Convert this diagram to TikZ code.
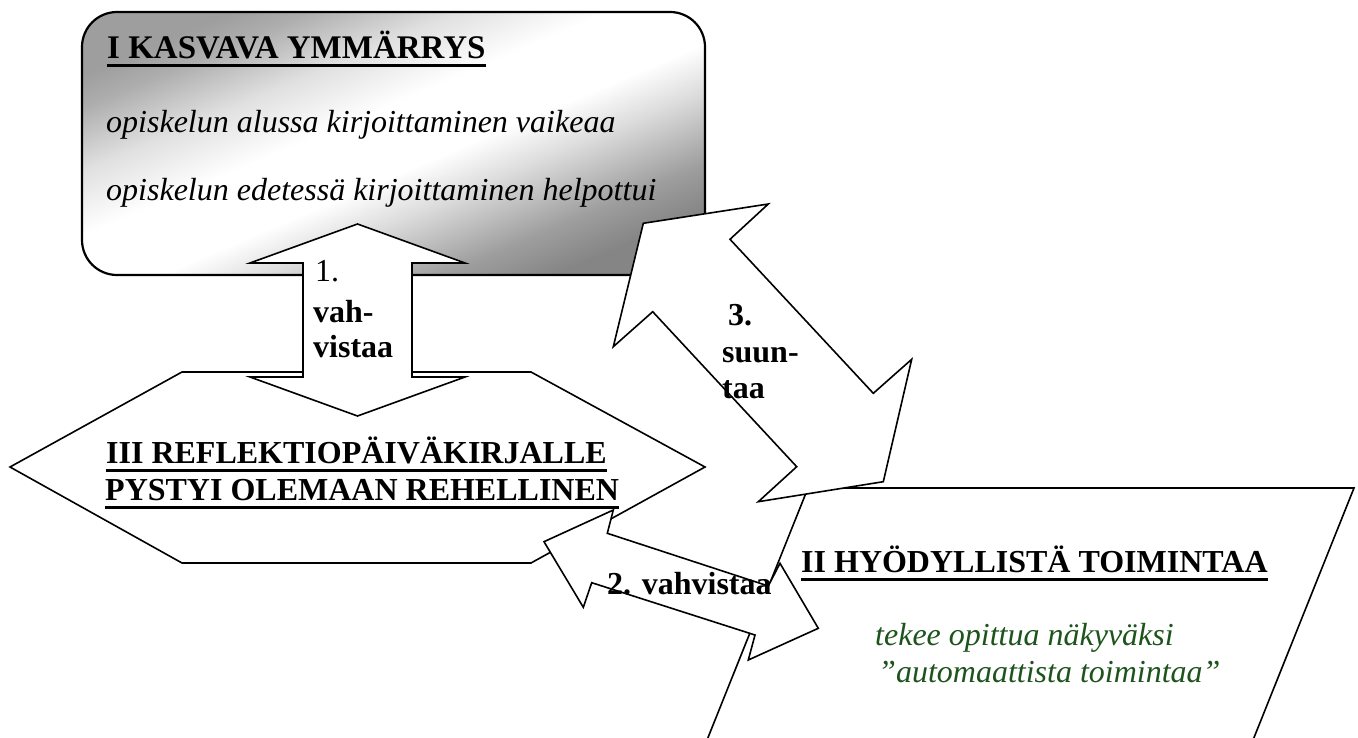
\documentclass[tikz,border=0pt]{standalone}
\usepackage{fontspec}
\setmainfont{Liberation Serif}
\definecolor{txtgreen}{RGB}{28,84,28}
\pgfdeclareverticalshading{boxshade}{100bp}{color(0bp)=(black!48); color(25bp)=(black!48);
  color(31bp)=(black!38); color(40bp)=(black!14); color(46bp)=(white); color(55bp)=(white);
  color(63bp)=(black!12); color(71bp)=(black!32); color(75bp)=(black!38); color(100bp)=(black!38)}
\newcommand\ulbox[1]{\setbox0=\hbox{#1}\rlap{\rule[-8.5pt]{\wd0}{3pt}}\box0}
\begin{document}
\begin{tikzpicture}[x=1pt,y=-1pt,
  shapeline/.style={draw=black,line width=1.6pt,fill=white,line join=miter},
  lbl/.style={anchor=base west,inner sep=0pt,font=\fontsize{32}{36}\selectfont},
  lblb/.style={lbl,font=\fontsize{32}{36}\selectfont\bfseries},
  lbli/.style={lbl,font=\fontsize{32}{36}\selectfont\itshape}]
\useasboundingbox (0,0) rectangle (1358,738);
\begin{scope}
\clip (0,0) rectangle (1358,738);
% top box
\shade[shading=boxshade, shading angle=23, rounded corners=35pt] (82,12) rectangle (705,275);
\draw[line width=2.2pt, rounded corners=35pt] (82,12) rectangle (705,275);
% hexagon
\draw[shapeline] (10,467) -- (182,372) -- (531,372) -- (705,467) -- (531,563) -- (182,563) -- cycle;
% parallelogram
\draw[shapeline] (808,488) -- (1354,488) -- (1229,800) -- (683,800) -- cycle;
% arrow 1 (vertical double arrow)
\draw[shapeline] (357.5,224) -- (465,263) -- (412,263) -- (412,377) -- (465,377) -- (357.5,416)
  -- (250,377) -- (303,377) -- (303,263) -- (250,263) -- cycle;
% arrow 3 (diagonal double arrow)
\draw[shapeline] (643.3,223.3) -- (768.3,204) -- (730,239.3) -- (873.3,393.3) -- (911.7,359.3)
  -- (883.3,481.7) -- (758.3,501.7) -- (796.7,466.7) -- (652.7,311.7) -- (613.3,346.7) -- cycle;
% arrow 2 (lower double arrow)
\draw[shapeline] (544,541.7) -- (613.3,510) -- (607.3,533.3) -- (768.3,586) -- (780,563.3)
  -- (818.3,628.3) -- (748.3,660) -- (755,635) -- (591.7,582.7) -- (583.3,607.3) -- cycle;
\end{scope}
% texts of box I
\node[lbl,font=\fontsize{33}{36}\selectfont\bfseries] (t1) at (107,59) {\ulbox{I KASVAVA YMMÄRRYS}};
\node[lbli] (t2) at (106,133) {opiskelun alussa kirjoittaminen vaikeaa};
\node[lbli] (t3) at (106,201) {opiskelun edetessä kirjoittaminen helpottui};
% texts of hexagon III
\node[lblb] (h1) at (106,463) {\ulbox{III REFLEKTIOPÄIVÄKIRJALLE}};
\node[lblb] (h2) at (105,500) {\ulbox{PYSTYI OLEMAAN REHELLINEN}};
% texts of parallelogram II
\node[lblb] (p1) at (801,572) {\ulbox{II HYÖDYLLISTÄ TOIMINTAA}};
\node[lbli,text=txtgreen] (p2) at (875,645) {tekee opittua näkyväksi};
\node[lbli,text=txtgreen] (p3) at (878,682) {”automaattista toimintaa”};
% arrow labels
\node[lbl] (a1) at (315,282) {1.};
\node[lblb] (a2) at (313,323) {vah-};
\node[lblb] (a3) at (313,357) {vistaa};
\node[lblb] (c1) at (728,325) {3.};
\node[lblb] (c2) at (722,362) {suun-};
\node[lblb] (c3) at (722,398) {taa};
\node[lblb] (b1) at (607,594) {2. vahvistaa};
\end{tikzpicture}
\end{document}
